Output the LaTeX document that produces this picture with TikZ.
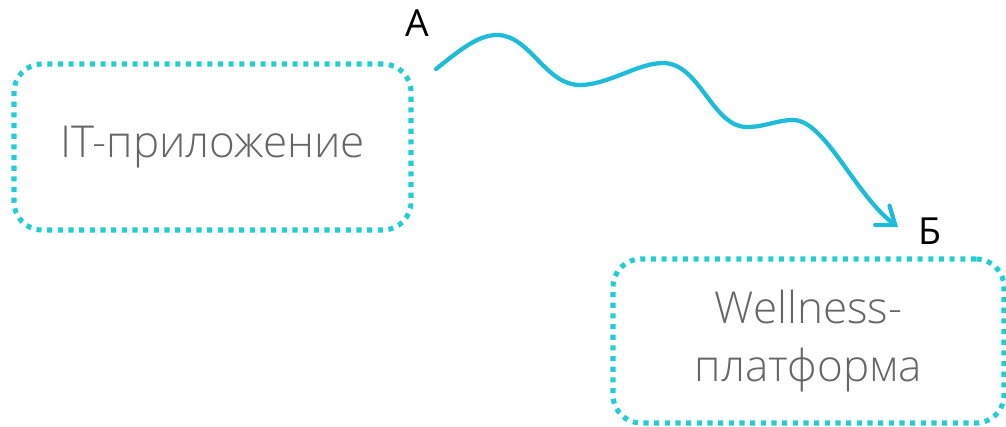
\documentclass[tikz,border=0pt]{standalone}
\usepackage{fontspec}
\setmainfont{Open Sans}[UprightFont={* Light}]
\newfontfamily\labelfont{Open Sans}
\usetikzlibrary{arrows.meta}
\definecolor{dotcyan}{HTML}{22CDD6}
\definecolor{wavecyan}{HTML}{1FBCDA}
\definecolor{textgray}{HTML}{666666}
\tikzset{
  platform/.style={draw=dotcyan, line width=3.8pt, dash pattern=on 3.8pt off 4.2pt,
    rounded corners=21pt, align=center, text=textgray, inner sep=0pt,
    font=\fontsize{33}{43}\selectfont},
  letter/.style={font=\labelfont\fontsize{28}{30}\selectfont, text=black, inner sep=0pt},
  wave/.style={wavecyan, line width=3.2pt, line cap=round,
    -{Straight Barb[length=12pt,width=18pt,line cap=round]}}
}
\begin{document}
\begin{tikzpicture}[x=0.75pt,y=-0.75pt]
  \useasboundingbox (0,0) rectangle (1006,427);

  % the two systems
  \node[platform, minimum width=297.75pt, minimum height=124.5pt] (app) at (212.5,147) {IT-приложение};
  \node[platform, minimum width=293.25pt, minimum height=123pt] (wellness) at (808.5,341) {Wellness-\\платформа};

  % end labels
  \node[letter] (pointA) at (417,23.5) {А};
  \node[letter] (pointB) at (930,231) {Б};

  % data flow
  \coordinate (flowstart) at (436,69);
  \coordinate (flowend) at (898,227);
  \draw[wave] (flowstart) .. controls (460,50) and (478,35) .. (497,35)
    .. controls (530,35) and (545,85) .. (580,85)
    .. controls (608,85) and (638,63) .. (663,63)
    .. controls (700,63) and (712,127) .. (747,127)
    .. controls (765,127) and (777,120) .. (793,120)
    .. controls (825,120) and (855,195) .. (flowend);
\end{tikzpicture}
\end{document}
